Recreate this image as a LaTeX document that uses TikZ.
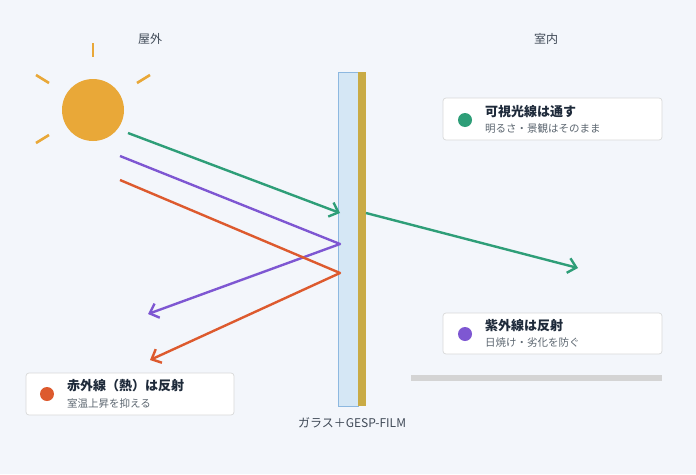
\documentclass[tikz,border=0pt]{standalone}
\usepackage{fontspec}
\setmainfont{Noto Sans CJK JP}
\usetikzlibrary{arrows.meta}
\definecolor{bg}{HTML}{F3F6FB}
\definecolor{sun}{HTML}{E9A838}
\definecolor{gr}{HTML}{2E9E78}
\definecolor{pu}{HTML}{7E57D2}
\definecolor{orr}{HTML}{DD5A2E}
\definecolor{glass}{HTML}{D5E7F5}
\definecolor{glassb}{HTML}{8DB8E0}
\definecolor{film}{HTML}{C9AB45}
\definecolor{txt}{HTML}{1E2A3A}
\definecolor{sub}{HTML}{5C6670}
\begin{document}
\begin{tikzpicture}[x=1pt,y=-1pt,
  ray/.style={line width=2.4pt},
  tip/.style={-{Straight Barb[length=8pt,width=15pt,line width=2.4pt]}},
  sunray/.style={sun,line width=2.6pt},
  card/.style={draw=black!15,fill=white,rounded corners=3pt,line width=0.7pt},
  ttl/.style={anchor=west,font=\fontsize{13}{15}\selectfont\bfseries,text=txt,inner sep=0},
  st/.style={anchor=west,font=\fontsize{10.5}{12}\selectfont,text=sub,inner sep=0},
  lbl/.style={font=\fontsize{12}{14}\selectfont,text=txt!85}]
\fill[bg] (0,0) rectangle (696,474);
\useasboundingbox (0,0) rectangle (696,474);
\node[lbl] (out) at (150,39) {屋外};
\node[lbl] (in) at (546,39) {室内};
% sun
\fill[sun] (93,110) circle (31);
\draw[sunray] (93,43) -- (93,57);
\draw[sunray] (36,75) -- (49,83);
\draw[sunray] (137,83) -- (150,75);
\draw[sunray] (36,143) -- (49,135);
% glass
\draw[fill=glass,draw=glassb,line width=0.7pt] (338,72) rectangle (358,406);
\fill[film] (358,72) rectangle (366,406);
\node[lbl] (gl) at (352,423) {ガラス＋GESP-FILM};
% rays
\coordinate (g0) at (128,133); \coordinate (g1) at (340,213);
\coordinate (g2) at (366,213); \coordinate (g3) at (578,268);
\coordinate (p0) at (120,156); \coordinate (p1) at (340,244); \coordinate (p2) at (148,314);
\coordinate (o0) at (120,180); \coordinate (o1) at (340,273); \coordinate (o2) at (150,360);
\draw[ray,gr,tip] (g0) -- (g1);
\draw[ray,gr,tip] (g2) -- (g3);
\draw[ray,pu,tip,line join=round] (p0) -- (p1) -- (p2);
\draw[ray,orr,tip,line join=round] (o0) -- (o1) -- (o2);
% gray bar
\fill[black!17] (411,375) rectangle (662,381);
% cards
\draw[card] (443,98) rectangle (662,140);
\fill[gr] (465,120) circle (7);
\node[ttl] (t1) at (485,112) {可視光線は通す};
\node[st] (s1) at (485,129) {明るさ・景観はそのまま};
\draw[card] (443,313) rectangle (662,354);
\fill[pu] (465,334) circle (7);
\node[ttl] (t2) at (485,326) {紫外線は反射};
\node[st] (s2) at (485,343) {日焼け・劣化を防ぐ};
\draw[card] (26,373) rectangle (234,415);
\fill[orr] (47,394) circle (7);
\node[ttl] (t3) at (67,386) {赤外線（熱）は反射};
\node[st] (s3) at (67,404) {室温上昇を抑える};
\end{tikzpicture}
\end{document}
